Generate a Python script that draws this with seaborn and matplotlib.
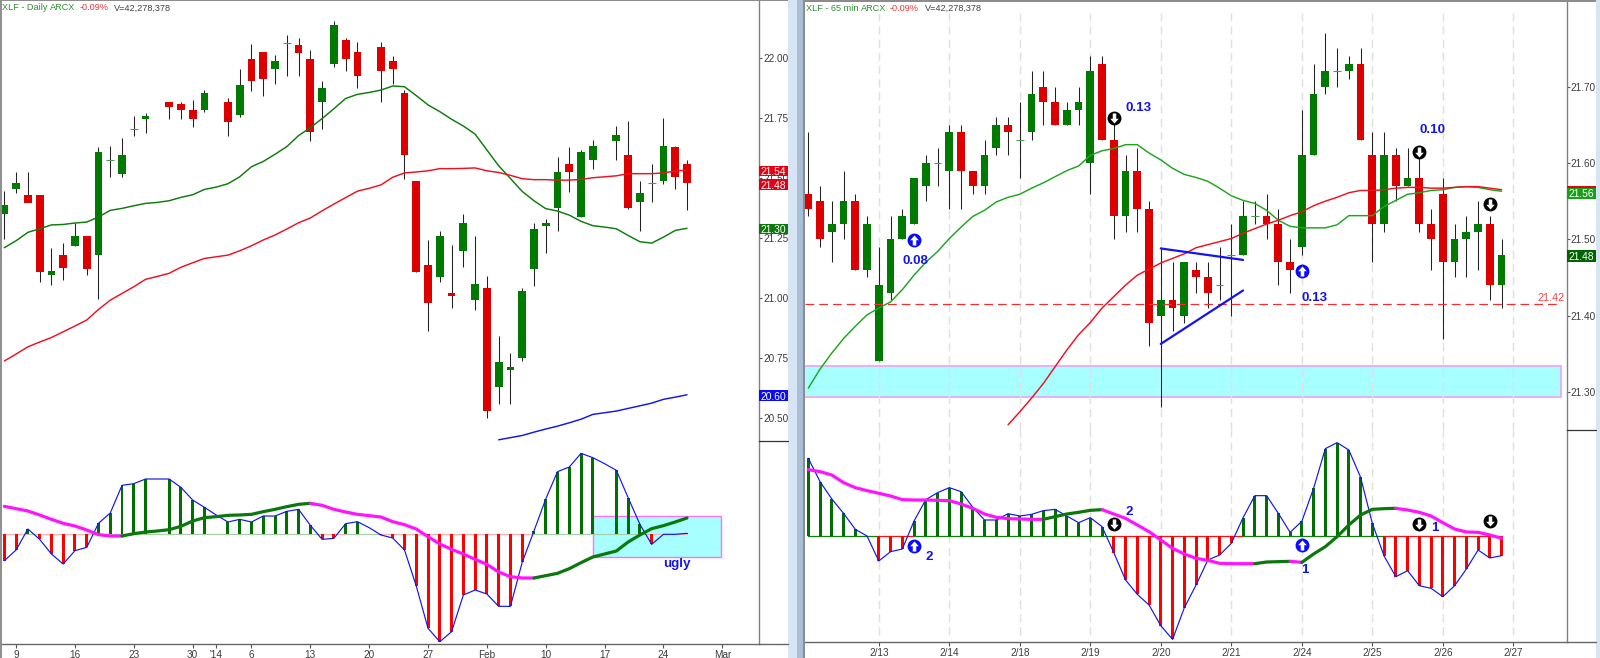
import numpy as np
import matplotlib
matplotlib.use('Agg')
import matplotlib.pyplot as plt
from matplotlib.lines import Line2D
from matplotlib.patches import Rectangle
from matplotlib.transforms import blended_transform_factory
import seaborn as sns

W, H = 1600, 658
n = np.nan

# Daily chart - prices
daily_open = [21.35,21.455,21.43,21.43,21.097,21.179,21.217,21.259,21.178,21.576,21.516,21.707,21.747,n,21.82,21.808,21.786,21.786,n,21.818,21.764,21.998,22.026,21.955,22.066,22.058,21.998,21.818,21.975,22.078,22.026,n,22.047,21.988,21.857,21.489,21.139,21.089,21.021,21.197,20.99,21.041,20.63,20.7,20.748,21.121,21.299,21.377,21.56,21.337,21.576,n,21.657,21.597,21.399,21.479,21.489,21.631,21.56]
daily_close = [21.39,21.48,21.396,21.108,21.111,21.126,21.259,21.119,21.609,21.576,21.597,21.707,21.76,n,21.796,21.786,21.747,21.857,n,21.736,21.889,21.906,21.915,21.988,22.066,22.024,21.694,21.878,22.138,21.996,21.926,n,21.948,21.955,21.597,21.108,20.98,21.259,21.008,21.311,21.06,20.53,20.733,20.712,21.03,21.29,21.311,21.528,21.527,21.609,21.636,n,21.68,21.377,21.44,21.479,21.636,21.507,21.478]
daily_high = [21.446,21.527,21.527,21.43,21.207,21.228,21.311,21.259,21.63,21.636,21.668,21.76,21.771,n,21.82,21.818,21.826,21.868,n,21.836,21.956,22.059,22.026,22.015,22.098,22.085,22.037,21.907,22.156,22.084,22.067,n,22.067,22.009,21.868,21.489,21.243,21.281,21.22,21.35,21.259,21.092,20.843,20.77,21.041,21.311,21.329,21.589,21.63,21.618,21.659,n,21.719,21.739,21.489,21.56,21.751,21.636,21.576]
daily_low = [21.245,21.437,21.43,21.065,21.054,21.075,21.217,21.096,20.996,21.504,21.506,21.676,21.687,n,21.747,21.746,21.715,21.775,n,21.678,21.757,21.866,21.845,21.895,21.926,21.926,21.656,21.706,21.966,21.946,21.877,n,21.817,21.894,21.497,21.108,20.861,21.067,20.958,21.128,20.948,20.5,20.559,20.559,20.738,21.052,21.187,21.278,21.444,21.337,21.537,n,21.575,21.371,21.278,21.399,21.477,21.457,21.368]
daily_ma_green = [21.21,21.239,21.274,21.289,21.305,21.307,21.313,21.317,21.338,21.366,21.374,21.385,21.395,21.399,21.406,21.42,21.431,21.453,21.463,21.477,21.506,21.548,21.57,21.6,21.632,21.678,21.711,21.749,21.79,21.833,21.85,21.858,21.868,21.885,21.882,21.845,21.806,21.778,21.746,21.718,21.684,21.618,21.552,21.499,21.445,21.406,21.373,21.363,21.346,21.32,21.302,21.296,21.289,21.261,21.235,21.229,21.254,21.282,21.291]
daily_ma_red = [20.737,20.766,20.796,20.816,20.835,20.859,20.883,20.908,20.952,20.991,21.019,21.047,21.078,21.09,21.103,21.128,21.147,21.165,21.172,21.179,21.197,21.218,21.242,21.263,21.288,21.314,21.334,21.364,21.392,21.419,21.446,21.458,21.472,21.504,21.522,21.526,21.531,21.54,21.54,21.541,21.543,21.531,21.524,21.512,21.498,21.494,21.494,21.492,21.492,21.495,21.502,21.506,21.51,21.519,21.519,21.519,21.522,21.53,21.534]
daily_ma_blue_start = 42
daily_ma_blue = [20.408,20.417,20.426,20.44,20.453,20.465,20.479,20.494,20.514,20.521,20.528,20.539,20.55,20.561,20.577,20.586,20.596]
daily_hist = [-0.81,-0.49,0.14,-0.17,-0.61,-0.91,-0.51,-0.41,0.31,0.62,1.45,1.5,1.64,1.64,1.64,1.39,1.01,0.79,0.56,0.35,0.43,0.35,0.53,0.53,0.67,0.73,0.25,-0.17,-0.14,0.3,0.36,0.18,-0.04,-0.13,-0.49,-1.57,-2.84,-3.24,-2.94,-1.84,-1.69,-1.81,-2.18,-2.18,-0.86,0.08,1.04,1.86,2.0,2.41,2.28,2.1,1.9,1.08,0.28,-0.32,-0.02,-0.02,0.01]
daily_signal = [0.82,0.75,0.68,0.56,0.43,0.31,0.23,0.11,-0.03,-0.07,-0.07,0.0,0.05,0.08,0.12,0.22,0.38,0.48,0.51,0.55,0.56,0.58,0.66,0.73,0.81,0.88,0.91,0.85,0.73,0.65,0.58,0.54,0.5,0.36,0.27,0.14,-0.09,-0.31,-0.47,-0.61,-0.77,-0.92,-1.15,-1.29,-1.33,-1.33,-1.26,-1.19,-1.05,-0.87,-0.7,-0.61,-0.52,-0.25,-0.04,0.15,0.24,0.35,0.47]
daily_ticks = [1,6,11,16,18,21,26,31,36,41,46,51,56,61]
daily_tick_labels = ['9','16','23','30',"'14",'6','13','20','27','Feb','10','17','24','Mar']
daily_price_ticks = [22.0,21.75,21.5,21.25,21.0,20.75,20.5]

# 65 min chart
min65_open = [21.56,21.55,21.51,21.52,21.55,21.46,21.34,21.43,21.50,21.52,21.57,21.60,21.59,21.64,21.59,21.57,21.62,21.65,21.63,21.64,21.70,21.68,21.65,21.67,21.60,21.73,21.63,21.53,21.59,21.54,21.40,21.42,21.40,21.46,21.45,21.44,21.48,21.48,21.53,21.53,21.52,21.47,21.49,21.61,21.70,21.72,21.72,21.73,21.61,21.52,21.61,21.57,21.58,21.52,21.56,21.47,21.50,21.51,21.52,21.44]
min65_close = [21.54,21.50,21.52,21.55,21.46,21.52,21.44,21.50,21.53,21.58,21.60,21.60,21.64,21.59,21.57,21.61,21.65,21.64,21.63,21.69,21.68,21.65,21.67,21.68,21.72,21.63,21.53,21.59,21.54,21.39,21.42,21.41,21.47,21.45,21.43,21.44,21.48,21.53,21.53,21.52,21.47,21.46,21.61,21.69,21.72,21.72,21.73,21.63,21.52,21.61,21.57,21.58,21.52,21.50,21.47,21.50,21.51,21.52,21.44,21.48]
min65_high = [21.64,21.57,21.55,21.59,21.56,21.53,21.49,21.53,21.54,21.58,21.61,21.62,21.65,21.65,21.59,21.63,21.66,21.66,21.68,21.72,21.72,21.70,21.68,21.70,21.74,21.74,21.66,21.61,21.62,21.55,21.49,21.47,21.47,21.47,21.47,21.49,21.52,21.55,21.55,21.56,21.54,21.50,21.67,21.73,21.77,21.75,21.74,21.75,21.64,21.64,21.62,21.62,21.61,21.54,21.58,21.52,21.53,21.55,21.53,21.50]
min65_low = [21.53,21.49,21.47,21.50,21.46,21.45,21.34,21.42,21.50,21.52,21.55,21.57,21.54,21.54,21.56,21.56,21.61,21.61,21.58,21.63,21.65,21.65,21.65,21.65,21.56,21.63,21.50,21.51,21.51,21.36,21.28,21.38,21.39,21.43,21.41,21.42,21.40,21.48,21.52,21.50,21.44,21.43,21.48,21.61,21.69,21.70,21.71,21.63,21.47,21.51,21.55,21.57,21.51,21.46,21.37,21.45,21.45,21.46,21.42,21.41]
min65_ma_green = [21.305,21.33,21.351,21.37,21.386,21.401,21.41,21.418,21.434,21.453,21.47,21.484,21.501,21.516,21.53,21.538,21.549,21.555,21.559,21.567,21.574,21.582,21.59,21.596,21.61,21.616,21.619,21.624,21.624,21.613,21.604,21.593,21.585,21.581,21.576,21.567,21.557,21.551,21.547,21.538,21.525,21.517,21.515,21.515,21.515,21.519,21.531,21.531,21.531,21.543,21.551,21.559,21.561,21.564,21.565,21.568,21.569,21.568,21.565,21.563]
min65_ma_red_start = 17
min65_ma_red = [21.257,21.274,21.292,21.311,21.333,21.355,21.375,21.391,21.41,21.425,21.44,21.453,21.461,21.469,21.475,21.481,21.489,21.493,21.497,21.501,21.508,21.514,21.52,21.525,21.531,21.536,21.544,21.55,21.555,21.561,21.564,21.564,21.565,21.567,21.568,21.568,21.567,21.567,21.568,21.569,21.569,21.567,21.565]
min65_hist = [2.34,1.64,1.12,0.69,0.21,0.01,-0.74,-0.46,-0.38,0.46,1.1,1.31,1.46,1.34,0.87,0.49,0.49,0.68,0.61,0.66,0.77,0.81,0.61,0.41,0.56,0.29,-0.49,-1.31,-1.74,-2.06,-2.68,-3.09,-2.14,-1.46,-0.71,-0.56,-0.21,0.56,1.22,1.22,0.69,0.12,0.45,1.44,2.63,2.81,2.59,1.77,0.39,-0.59,-1.21,-1.03,-1.48,-1.56,-1.81,-1.48,-0.98,-0.41,-0.65,-0.58]
min65_signal = [2.0,1.94,1.84,1.61,1.46,1.37,1.29,1.21,1.1,1.09,1.09,1.08,1.07,0.97,0.84,0.67,0.57,0.53,0.52,0.51,0.51,0.59,0.67,0.72,0.78,0.8,0.67,0.54,0.34,0.14,-0.11,-0.36,-0.53,-0.66,-0.72,-0.81,-0.82,-0.82,-0.82,-0.77,-0.76,-0.75,-0.78,-0.53,-0.31,-0.01,0.34,0.64,0.81,0.83,0.84,0.79,0.72,0.61,0.41,0.22,0.13,0.12,0.04,-0.06]
min65_days = [6,12,18,24,30,36,42,48,54,60]
min65_day_labels = ['2/13','2/14','2/18','2/19','2/20','2/21','2/24','2/25','2/26','2/27']
min65_price_ticks = [21.7,21.6,21.5,21.4,21.3]

RED = '#dc0000'
GREEN = '#007a00'
BLUE = '#1414f0'
MAGENTA = '#ff14ff'
LABEL = '#3c3c3c'
BOX_FILL = '#a8ffff'

sns.set_theme(style='white')
plt.rcParams['font.family'] = ['Liberation Sans', 'DejaVu Sans']

fig = plt.figure(figsize=(W / 100, H / 100), dpi=100, facecolor='white')


def px_axes(x0, y0, x1, y1):
    return fig.add_axes([x0 / W, 1 - y1 / H, (x1 - x0) / W, (y1 - y0) / H], facecolor='none')


def line(ax, x, y, color, lw, zorder=4):
    sns.lineplot(x=x, y=y, ax=ax, color=color, linewidth=lw, estimator=None, sort=False,
                 legend=False, zorder=zorder, solid_capstyle='round')


def candles(ax, o, h, l, c, width=0.66):
    o, h, l, c = [np.array(v, dtype=float) for v in (o, h, l, c)]
    x = np.arange(len(o))
    ok = ~np.isnan(o)
    ax.vlines(x[ok], l[ok], h[ok], color='#222222', lw=0.75, zorder=2)
    up = (c > o) & ok
    down = (c < o) & ok
    doji = (c == o) & ok
    ax.bar(x[up], c[up] - o[up], bottom=o[up], width=width, color=GREEN, lw=0, zorder=3)
    ax.bar(x[down], o[down] - c[down], bottom=c[down], width=width, color=RED, lw=0, zorder=3)
    ax.hlines(o[doji], x[doji] - width / 2, x[doji] + width / 2, color='#4f9a4f', lw=0.8, zorder=3)


def split_runs(x, y, flags, ax, color_true, color_false, lw, zorder):
    # cut a line into pieces of one colour
    start = 0
    for i in range(1, len(flags) + 1):
        if i == len(flags) or flags[i] != flags[start]:
            line(ax, x[start:i + 1], y[start:i + 1], color_true if flags[start] else color_false, lw, zorder)
            start = i


def indicator(ax, hist, signal, gaps, zero_pos, zero_neg):
    hist = np.array(hist, dtype=float)
    signal = np.array(signal, dtype=float)
    x = np.arange(len(hist))
    keep = ~np.isnan(np.array(gaps, dtype=float))
    split_runs(x, np.zeros(len(x)), hist[:-1] >= 0, ax, zero_pos, zero_neg, 0.9, 1.5)
    colors = np.where(hist >= 0, '#007000', '#ff0000')
    ax.bar(x[keep], hist[keep], width=0.25, color=colors[keep], lw=0, zorder=2)
    line(ax, x, hist, BLUE, 0.85, 3)
    split_runs(x, signal, np.diff(signal) > 0, ax, '#0b780b', MAGENTA, 2.3, 4)


def style_axes(ax, xlim, ylim):
    ax.set_xlim(*xlim)
    ax.set_ylim(*ylim)
    for side in ['top', 'left', 'bottom']:
        ax.spines[side].set_visible(False)
    ax.spines['right'].set_visible(True)
    ax.spines['right'].set_color('#808080')
    ax.spines['right'].set_linewidth(1.0)
    ax.set_xticks([])
    ax.set_xlabel('')
    ax.set_ylabel('')


def price_ticks(ax, ticks):
    ax.yaxis.tick_right()
    ax.set_yticks(ticks)
    ax.set_yticklabels(['%.2f' % t for t in ticks], fontsize=7.2, color=LABEL)
    ax.tick_params(axis='y', length=2.5, width=0.8, color='#555555', pad=0.5, right=True)


def date_ticks(ax, ticks, labels):
    ax.spines['bottom'].set_visible(True)
    ax.spines['bottom'].set_color('#666666')
    ax.spines['bottom'].set_linewidth(1.0)
    ax.set_xticks(ticks)
    ax.set_xticklabels(labels, fontsize=7.2, color=LABEL)
    ax.tick_params(axis='x', length=3, width=0.8, color='#555555', pad=1.5, bottom=True)
    ax.set_yticks([])


def tag(ax, value, text, color, height, width, text_color='white', y=None):
    tr = blended_transform_factory(ax.transAxes, ax.transData)
    y = value if y is None else y
    ax.add_patch(Rectangle((1.0, y - height / 2), width, height, transform=tr, color=color,
                           clip_on=False, lw=0, zorder=6))
    if text:
        ax.text(1.0 + width / 2, y, text, transform=tr, color=text_color, fontsize=7.4,
                ha='center', va='center_baseline', zorder=7, clip_on=False)


def box(ax, x0, x1, y0, y1, edge, lw):
    ax.add_patch(Rectangle((x0, y0), x1 - x0, y1 - y0, facecolor=BOX_FILL, edgecolor=edge, lw=lw, zorder=0.5))


def arrow_badge(ax, x, y, up):
    head = [(0, 1), (0.85, 0.05), (0.35, 0.05), (0.35, -1), (-0.35, -1), (-0.35, 0.05), (-0.85, 0.05)]
    if not up:
        head = [(a, -b) for a, b in head]
    ax.scatter([x], [y], s=100, color='#0a0aff' if up else '#000000', lw=0, zorder=8, clip_on=False)
    ax.scatter([x], [y], s=52, marker=head, color='white', lw=0, zorder=9, clip_on=False)


def blue_text(ax, x, y, text, size=9.6):
    ax.text(x, y, text, color=BLUE, fontsize=size, fontweight='bold', ha='center', va='center', zorder=9)


def header(x_list, y, parts):
    for x, (text, color) in zip(x_list, parts):
        fig.text(x / W, 1 - y / H, text, color=color, fontsize=6.6, ha='left', va='center')


# ---- daily panel
ax1 = px_axes(1, 0, 759, 441)
ax2 = px_axes(1, 441, 759, 644)
xlim_d = (-0.283, 64.12)
d_x = np.arange(len(daily_open))
candles(ax1, daily_open, daily_high, daily_low, daily_close)
line(ax1, d_x, daily_ma_green, '#0c7c0c', 1.05)
line(ax1, d_x, daily_ma_red, '#ee1122', 1.05)
line(ax1, np.arange(len(daily_ma_blue)) + daily_ma_blue_start, daily_ma_blue, BLUE, 1.05)
style_axes(ax1, xlim_d, (20.403, 22.244))
price_ticks(ax1, daily_price_ticks)
tag_w = 29 / 758
tag(ax1, 21.531, '21.54', '#e60012', 0.044, tag_w)
tag(ax1, 21.473, '21.48', '#e0001a', 0.044, tag_w)
tag(ax1, 21.288, '21.30', '#0a780a', 0.044, tag_w)
tag(ax1, 20.592, '20.60', '#0a0aff', 0.044, tag_w)

box(ax2, 50, 60.9, -0.69, 0.52, '#ff70ff', 1.0)
indicator(ax2, daily_hist, daily_signal, daily_open, '#a8d0a8', '#ffb0b0')
ax2.text(57.1, -0.92, 'ugly', color=BLUE, fontsize=9.6, fontweight='bold', ha='center', va='center', zorder=9)
style_axes(ax2, xlim_d, (-3.31, 2.78))
date_ticks(ax2, daily_ticks, daily_tick_labels)

# ---- 65 min panel
ax3 = px_axes(804.7, 0, 1566.7, 430.3)
ax4 = px_axes(804.7, 430.3, 1566.7, 641.7)
xlim_m = (-0.306, 64.54)
m_x = np.arange(len(min65_open))
for day in min65_days:
    ax3.axvline(day, ymin=0, ymax=0.97, color='#e0e0e0', lw=1.0, dashes=(6, 3.5), zorder=1)
    ax4.axvline(day, ymin=0.03, ymax=1, color='#e0e0e0', lw=1.0, dashes=(6, 3.5), zorder=1)
box(ax3, -0.37, 64.03, 21.293, 21.334, '#e8a8f8', 1.3)
candles(ax3, min65_open, min65_high, min65_low, min65_close)
line(ax3, m_x, min65_ma_green, '#1fa51f', 1.05)
line(ax3, np.arange(len(min65_ma_red)) + min65_ma_red_start, min65_ma_red, '#ee1122', 1.05)
ax3.plot([-0.306, 63.95], [21.415, 21.415], color='#f03030', lw=0.9, dashes=(7, 4), zorder=4)
ax3.text(63.2, 21.4236, '21.42', color='#f04848', fontsize=7.8, ha='center', va='center', zorder=9)
sns.lineplot(x=[30, 37], y=[21.488, 21.473], ax=ax3, color=BLUE, linewidth=1.6, legend=False, zorder=5)
sns.lineplot(x=[30, 37], y=[21.363, 21.433], ax=ax3, color=BLUE, linewidth=1.6, legend=False, zorder=5)
blue_text(ax3, 28.1, 21.672, '0.13')
blue_text(ax3, 9.08, 21.471, '0.08')
blue_text(ax3, 43.1, 21.423, '0.13')
blue_text(ax3, 53.08, 21.643, '0.10')
arrow_badge(ax3, 9, 21.4995, True)
arrow_badge(ax3, 42, 21.459, True)
arrow_badge(ax3, 26, 21.659, False)
arrow_badge(ax3, 52, 21.615, False)
arrow_badge(ax3, 58, 21.546, False)
style_axes(ax3, xlim_m, (21.2498, 21.8135))
price_ticks(ax3, min65_price_ticks)
tag_w2 = 29 / 762
tag(ax3, 21.562, '', '#e60012', 0.0145, tag_w2)
tag(ax3, 21.5603, '21.56', '#18a018', 0.0148, tag_w2)
tag(ax3, 21.478, '21.48', '#006400', 0.0148, tag_w2)

indicator(ax4, min65_hist, min65_signal, min65_open, '#108010', '#ff1010')
blue_text(ax4, 10.3, -0.61, '2')
blue_text(ax4, 27.3, 0.73, '2')
blue_text(ax4, 42.3, -1.01, '1')
blue_text(ax4, 53.3, 0.24, '1')
arrow_badge(ax4, 9, -0.28, True)
arrow_badge(ax4, 26, 0.36, False)
arrow_badge(ax4, 42, -0.25, True)
arrow_badge(ax4, 52, 0.37, False)
arrow_badge(ax4, 58, 0.46, False)
style_axes(ax4, xlim_m, (-3.16, 3.18))
date_ticks(ax4, min65_days, min65_day_labels)

# ---- window chrome
fig.add_artist(Rectangle((0, 0), 1.6 / W, 1, transform=fig.transFigure, color='#909090', lw=0))
fig.add_artist(Rectangle((0, 1 - 1.2 / H), 788 / W, 1.2 / H, transform=fig.transFigure, color='#8c8c8c', lw=0))
fig.add_artist(Rectangle((803 / W, 1 - 1.6 / H), 793 / W, 1.6 / H, transform=fig.transFigure, color='#8c8c8c', lw=0))
fig.add_artist(Rectangle((788 / W, 0), 9 / W, 1, transform=fig.transFigure, color='#d7e4f3', lw=0))
fig.add_artist(Rectangle((797 / W, 0), 6 / W, 1, transform=fig.transFigure, color='#a9bfd8', lw=0))
fig.add_artist(Rectangle((803 / W, 0), 1.7 / W, 1, transform=fig.transFigure, color='#8c8c8c', lw=0))
fig.add_artist(Rectangle((1596 / W, 0), 4 / W, 1, transform=fig.transFigure, color='#d7e4f3', lw=0))
fig.add_artist(Line2D([759 / W, 788 / W], [1 - 441 / H] * 2, color='#333333', lw=0.9))
fig.add_artist(Line2D([1566.7 / W, 1596 / W], [1 - 430.3 / H] * 2, color='#333333', lw=0.9))
fig.add_artist(Line2D([759 / W, 788 / W], [1 - 644 / H] * 2, color='#666666', lw=1.0))
fig.add_artist(Line2D([1566.7 / W, 1596 / W], [1 - 641.7 / H] * 2, color='#666666', lw=1.0))

header([2, 50, 80, 114], 8, [('XLF - Daily', '#2f8f2f'), ('ARCX', '#2f8f2f'), ('-0.09%', '#f03838'), ('V=42,278,378', '#444444')])
header([805.7, 861, 890, 925], 8.3, [('XLF - 65 min', '#2f8f2f'), ('ARCX', '#2f8f2f'), ('-0.09%', '#f03838'), ('V=42,278,378', '#444444')])

fig.savefig('out.png', dpi=100, facecolor='white')
